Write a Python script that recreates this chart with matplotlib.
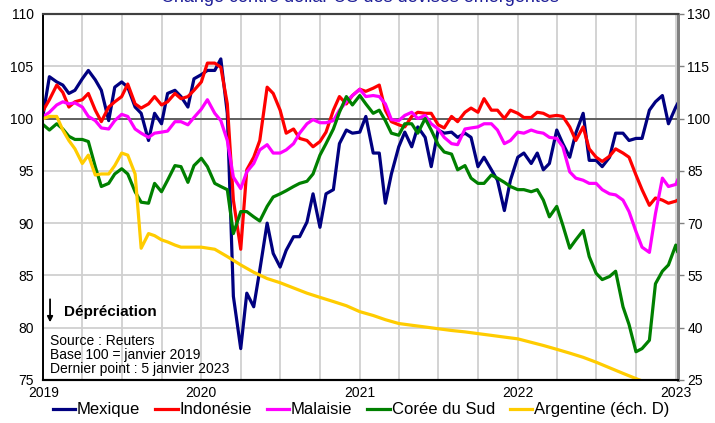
import numpy as np
import pandas as pd
import matplotlib
matplotlib.use("Agg")
import matplotlib.pyplot as plt
import matplotlib.dates as mdates

plt.rcParams['font.family'] = ['Liberation Sans', 'DejaVu Sans']

# =========================
# Données (base 100 = janvier 2019)
# =========================
dates = pd.date_range('2019-01-01', '2023-01-01', freq='SMS').append(pd.DatetimeIndex(['2023-01-05']))

mexique = [100.5, 104.0, 103.5, 103.2, 102.4, 102.7, 103.8, 104.6, 103.7, 102.7, 99.8, 103.0,
           103.5, 103.0, 101.1, 100.5, 97.9, 100.5, 99.5, 102.4, 102.7, 102.1, 101.1, 103.8,
           104.2, 104.6, 104.6, 105.7, 100.5, 83.0, 78.0, 83.3, 82.0, 85.5, 90.0, 87.1,
           85.8, 87.4, 88.7, 88.7, 90.1, 92.8, 89.6, 92.8, 93.2, 97.6, 98.9, 98.6,
           98.7, 100.2, 96.7, 96.7, 91.9, 94.7, 97.3, 98.7, 97.3, 99.2, 98.2, 95.4,
           98.9, 98.6, 98.7, 98.2, 98.6, 98.2, 95.4, 96.3, 95.1, 94.1, 91.2, 94.1,
           96.3, 96.7, 95.7, 96.7, 95.1, 95.7, 98.9, 97.6, 96.3, 98.6, 100.5, 96.0,
           96.0, 95.4, 96.3, 98.6, 98.6, 97.9, 98.1, 98.1, 100.8, 101.6, 102.2, 99.5,
           101.1, 101.4]

indonesie = [100.8, 101.8, 103.2, 102.5, 101.1, 101.6, 101.8, 102.4, 100.8, 99.7, 101.1, 101.6,
             102.1, 103.3, 101.4, 101.0, 101.4, 102.1, 101.3, 101.6, 102.4, 101.9, 102.1, 102.7,
             103.5, 105.3, 105.3, 104.9, 101.4, 92.2, 87.5, 95.1, 96.3, 97.9, 103.0, 102.4,
             100.8, 98.6, 99.0, 98.1, 97.9, 97.3, 97.8, 98.7, 100.8, 102.1, 101.4, 102.2,
             102.8, 102.6, 102.9, 103.2, 100.8, 99.7, 99.4, 99.2, 100.2, 100.6, 100.5, 100.5,
             99.4, 99.1, 100.2, 99.7, 100.6, 101.0, 100.6, 101.9, 100.8, 100.8, 100.0, 100.8,
             100.5, 100.1, 100.1, 100.6, 100.5, 100.2, 100.3, 100.2, 99.2, 97.9, 99.2, 97.1,
             96.3, 95.9, 96.4, 97.1, 96.7, 96.3, 94.6, 93.2, 91.7, 92.4, 92.2, 91.9,
             92.1, 92.2]

malaisie = [100.2, 100.6, 101.3, 101.6, 101.4, 101.5, 101.1, 100.2, 99.8, 99.1, 99.0, 99.8,
            100.4, 100.2, 99.0, 98.6, 98.2, 98.6, 98.7, 98.8, 99.7, 99.7, 99.4, 100.1,
            100.9, 101.8, 100.5, 99.8, 97.9, 94.4, 93.3, 94.9, 95.7, 97.0, 97.5, 96.7,
            96.7, 97.0, 97.6, 98.6, 99.5, 99.9, 99.6, 99.6, 99.8, 100.8, 101.6, 102.2,
            102.8, 102.1, 102.2, 102.1, 101.4, 99.9, 99.8, 100.3, 100.6, 100.0, 100.3, 99.5,
            99.0, 98.2, 97.6, 97.5, 99.0, 99.1, 99.2, 99.5, 99.5, 98.9, 97.6, 97.9,
            98.7, 98.6, 98.9, 98.7, 98.6, 98.2, 98.1, 97.3, 94.9, 94.3, 94.1, 93.8,
            93.8, 93.2, 92.8, 92.7, 92.2, 91.1, 89.2, 87.7, 87.2, 90.9, 94.3, 93.5,
            93.7, 94.1]

coree = [99.4, 98.9, 99.5, 99.0, 98.3, 98.0, 98.0, 97.8, 95.4, 93.5, 93.8, 94.7,
         95.2, 94.7, 93.0, 92.0, 91.9, 93.8, 93.0, 94.1, 95.5, 95.4, 93.9, 95.5,
         96.2, 95.4, 93.8, 93.5, 93.2, 89.0, 91.1, 91.1, 90.6, 90.2, 91.6, 92.5,
         92.8, 93.1, 93.5, 93.8, 94.0, 94.7, 96.5, 97.6, 99.0, 100.6, 102.1, 101.3,
         102.2, 101.4, 100.5, 100.8, 99.8, 98.6, 98.4, 99.5, 99.5, 98.6, 100.0, 98.9,
         97.5, 96.8, 96.6, 95.1, 95.5, 94.3, 93.8, 93.8, 94.6, 94.3, 93.9, 93.5,
         93.2, 93.2, 93.0, 93.2, 92.2, 90.6, 91.6, 89.8, 87.6, 88.4, 89.3, 86.8,
         85.2, 84.6, 84.9, 85.4, 82.0, 80.3, 77.7, 78.0, 78.8, 84.2, 85.4, 86.0,
         87.9, 87.3]

dates_arg = (pd.date_range('2019-01-01', '2019-12-15', freq='SMS')
             .append(pd.date_range('2020-01-01', '2023-01-01', freq='MS'))
             .append(pd.DatetimeIndex(['2023-01-05'])))

argentine = [100.0, 100.6, 100.6, 96.7, 93.7, 91.3, 87.1, 89.5, 83.8, 84.1, 84.1, 86.5,
             90.1, 89.5, 84.1, 62.8, 67.0, 66.4, 65.2, 64.6, 63.7, 63.1, 63.1, 63.1,
             63.1, 62.5, 60.4, 58.0, 55.9, 54.1, 52.9, 51.4, 49.9, 48.7, 47.5, 46.3,
             44.6, 43.5, 42.3, 41.2, 40.7, 40.2, 39.7, 39.2, 38.8, 38.3, 37.8, 37.3,
             36.8, 35.8, 34.9, 33.8, 32.7, 31.5, 30.1, 28.5, 26.9, 25.4, 23.9, 22.4,
             21.0, 20.9]

left_ticks = [75, 80, 85, 90, 95, 100, 105, 110]
right_ticks = [25, 40, 55, 70, 85, 100, 115, 130]
year_ticks = ['2019', '2020', '2021', '2022', '2023']

# =========================
# Figure
# =========================
fig = plt.figure(figsize=(7.15, 4.23), dpi=100)
ax = fig.add_axes([0.0606, 0.1017, 0.8870, 0.8653])
ax2 = ax.twinx()

lw = 2.3
ax.plot(dates, mexique, color='#000080', lw=lw, label='Mexique')
ax.plot(dates, indonesie, color='#FF0000', lw=lw, label='Indonésie')
ax.plot(dates, malaisie, color='#FF00FF', lw=lw, label='Malaisie')
ax.plot(dates, coree, color='#008000', lw=lw, label='Corée du Sud')
ax2.plot(dates_arg, argentine, color='#FFCC00', lw=lw, label='Argentine (éch. D)')

ax.axhline(100, color='#404040', lw=1.1, zorder=1.5)

ax.set_ylim(75, 110)
ax.set_yticks(left_ticks)
ax2.set_ylim(25, 130)
ax2.set_yticks(right_ticks)

ax.set_xlim(pd.Timestamp('2019-01-01'), pd.Timestamp('2023-01-05'))
ax.set_xticks([pd.Timestamp(y + '-01-01') for y in year_ticks])
ax.set_xticklabels(year_ticks)
ax.xaxis.set_minor_locator(mdates.MonthLocator(bymonth=[4, 7, 10]))

ax.grid(True, which='both', axis='x', color='#D0D0D0', lw=1.3, zorder=0)
ax.grid(True, which='major', axis='y', color='#D0D0D0', lw=1.3, zorder=0)
ax.set_axisbelow(True)

ax.tick_params(axis='y', length=0, pad=7, labelsize=10)
ax.tick_params(axis='x', which='both', length=0, pad=4, labelsize=10)
ax2.tick_params(axis='y', length=4, width=1, color='#808080', pad=3, labelsize=10)

for a in (ax, ax2):
    a.spines['top'].set_color('#404040')
    a.spines['top'].set_linewidth(1.5)
    a.spines['right'].set_color('#808080')
    a.spines['right'].set_linewidth(2)
    a.spines['left'].set_color('black')
    a.spines['left'].set_linewidth(1.2)
    a.spines['bottom'].set_color('black')
    a.spines['bottom'].set_linewidth(1.5)

# annotations
ax.annotate('', xy=(0.0106, 0.150), xytext=(0.0106, 0.228), xycoords='axes fraction',
            arrowprops=dict(arrowstyle='-|>', color='black', lw=1.3, mutation_scale=8))
ax.text(0.033, 0.186, 'Dépréciation', transform=ax.transAxes, fontsize=11,
        fontweight='bold', va='center', ha='left')
ax.text(0.0106, 0.107, 'Source : Reuters', transform=ax.transAxes, fontsize=10, va='center')
ax.text(0.0106, 0.068, 'Base 100 = janvier 2019', transform=ax.transAxes, fontsize=10, va='center')
ax.text(0.0106, 0.030, 'Dernier point : 5 janvier 2023', transform=ax.transAxes, fontsize=10, va='center')

# titre (coupé par le bord supérieur)
fig.text(0.503, 1 - 1.5 / 423, 'Change contre dollar US des devises émergentes',
         ha='center', va='baseline', fontsize=13, color='#1F1F99')

h1, l1 = ax.get_legend_handles_labels()
h2, l2 = ax2.get_legend_handles_labels()
fig.legend(h1 + h2, l1 + l2, loc='center', bbox_to_anchor=(0.505, 0.031), ncol=5,
           frameon=False, fontsize=12, handlelength=1.35, handletextpad=0.1,
           columnspacing=0.9, borderpad=0)

fig.savefig('out.png', dpi=100)
